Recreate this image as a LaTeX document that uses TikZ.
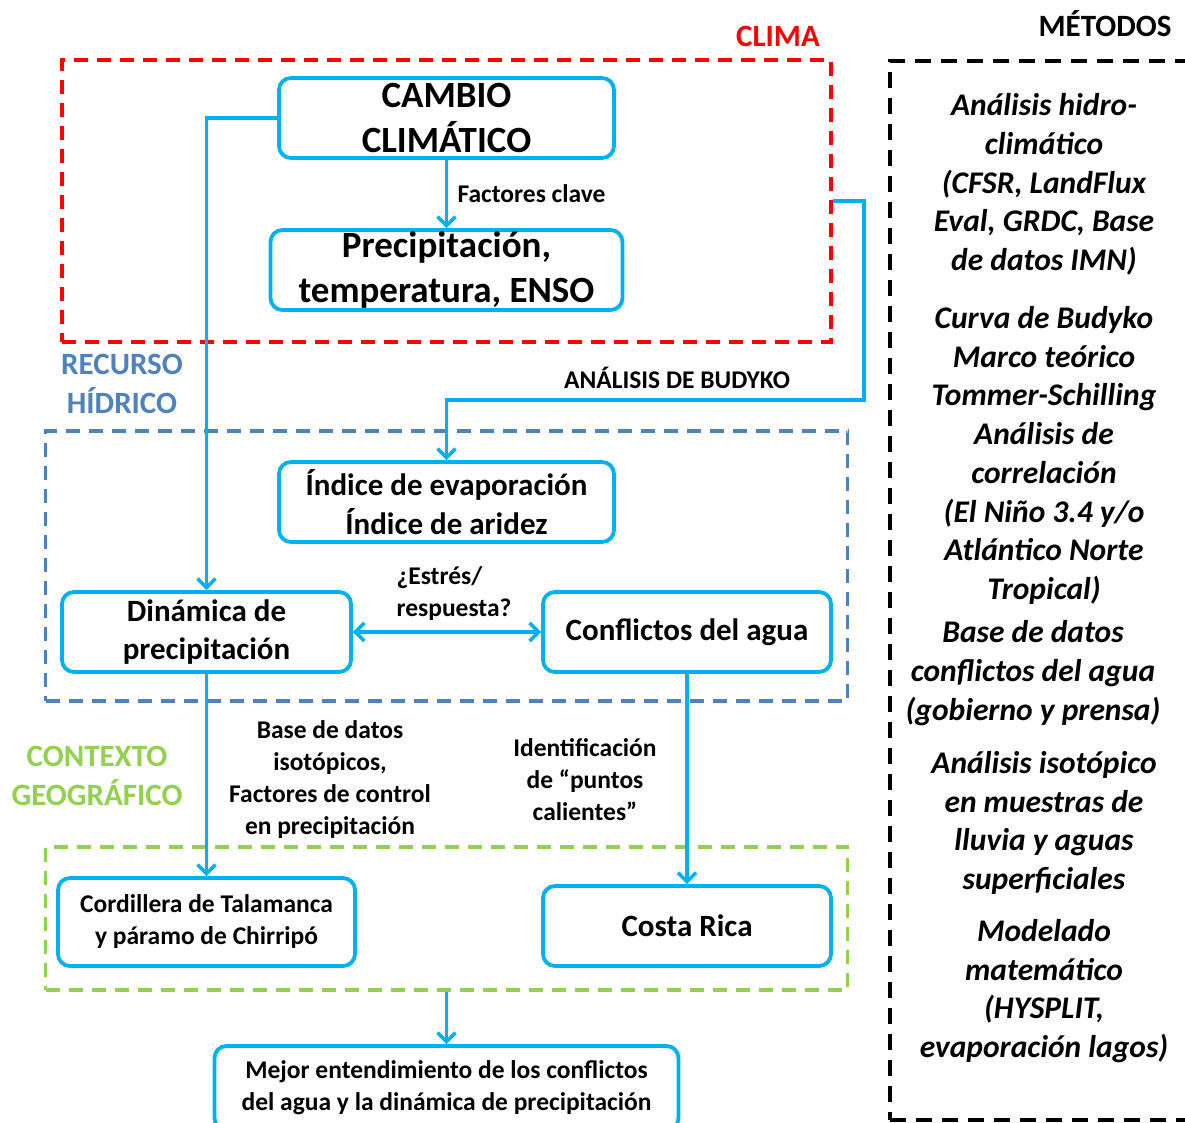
\documentclass[tikz,border=0pt]{standalone}
\usepackage{fontspec}
\setmainfont{Carlito}
\usepackage{tikz}
\usetikzlibrary{positioning}
\usetikzlibrary{arrows.meta}
\definecolor{flujo}{HTML}{00B0F0}
\definecolor{rojoclima}{HTML}{FF0000}
\definecolor{azulhidro}{HTML}{4F81BD}
\definecolor{verdegeo}{HTML}{92D050}
\tikzset{
    caja/.style = {rectangle, rounded corners=12pt, line width=3.8pt, draw=flujo, align=center, inner sep=0pt, font=\bfseries\fontsize{31}{38.5}\selectfont},
    cajag/.style = {caja, font=\bfseries\fontsize{37}{45}\selectfont},
    cajap/.style = {caja, font=\bfseries\fontsize{25.5}{32}\selectfont},
    zona/.style = {rectangle, line width=3.5pt, dash pattern=on 14pt off 9pt, inner sep=0pt},
    etiq/.style = {align=center, font=\bfseries\fontsize{25.5}{32}\selectfont},
    titulo/.style = {align=center, font=\bfseries\fontsize{31}{39}\selectfont},
    metodo/.style = {align=center, font=\bfseries\itshape\fontsize{31.5}{38.75}\selectfont},
    edgen/.style = {-{Straight Barb[length=9pt,width=18pt]},line width=3.5pt,draw=flujo}, % simple
    edged/.style = {{Straight Barb[length=9pt,width=18pt]}-{Straight Barb[length=9pt,width=18pt]},line width=3.5pt,draw=flujo} % doble
}

\begin{document}
\begin{tikzpicture}[x=1pt,y=-1pt]
\useasboundingbox (0,0) rectangle (1185,1122);
% zonas
\node[zona, draw=rojoclima, minimum width=769pt, minimum height=282pt] at (446.5,201) (clima) {};
\node[zona, draw=azulhidro, minimum width=802pt, minimum height=270pt] at (446.5,566) (recurso) {};
\node[zona, draw=verdegeo, minimum width=802pt, minimum height=143pt] at (446.5,918.5) (contexto) {};
\node[zona, draw=black, dash pattern=on 16pt off 10pt, minimum width=310pt, minimum height=1059pt] at (1045,590.5) (metodos) {};
\node[titulo, text=rojoclima] at (778,36) (climat) {CLIMA};
\node[titulo] at (1105,24) (metodost) {MÉTODOS};
\node[titulo, text=azulhidro] at (122,383.5) (recursot) {RECURSO\\HÍDRICO};
\node[titulo, text=verdegeo] at (97,776) (contextot) {CONTEXTO\\GEOGRÁFICO};
% cajas
\node[cajag, minimum width=335pt, minimum height=80pt] at (446.5,118) (cambio) {CAMBIO\\CLIMÁTICO};
\node[cajag, minimum width=352pt, minimum height=80pt] at (446.5,270) (precip) {Precipitación,\\temperatura, ENSO};
\node[caja, minimum width=335pt, minimum height=80pt] at (446.5,502) (indice) {Índice de evaporación\\Índice de aridez};
\node[caja, minimum width=289pt, minimum height=80pt] at (206.5,632) (dinamica) {Dinámica de\\precipitación};
\node[caja, minimum width=288pt, minimum height=80pt] at (687,632) (conflictos) {Conflictos del agua};
\node[cajap, minimum width=297pt, minimum height=88pt] at (206.5,922) (cordillera) {Cordillera de Talamanca\\y páramo de Chirripó};
\node[caja, minimum width=288pt, minimum height=80pt] at (687,926) (costa) {Costa Rica};
\node[cajap, minimum width=464pt, minimum height=84pt] at (446.5,1088) (mejor) {Mejor entendimiento de los conflictos\\del agua y la dinámica de precipitación};
% etiquetas
\node[etiq] at (677,378) (budyko) {ANÁLISIS DE BUDYKO};
\node[etiq, align=left, anchor=west] at (393,594) (estres) {¿Estrés/\\respuesta?};
\node[etiq] at (330,780) (isotopos) {Base de datos\\isotópicos,\\Factores de control\\en precipitación};
\node[etiq] at (585,780) (puntos) {Identificación\\de “puntos\\calientes”};
% metodos
\node[metodo] at (1044,184.5) (m1) {Análisis hidro-\\climático\\(CFSR, LandFlux\\Eval, GRDC, Base\\de datos IMN)};
\node[metodo] at (1044,455.5) (m2) {Curva de Budyko\\Marco teórico\\Tommer-Schilling\\Análisis de\\correlación\\(El Niño 3.4 y/o\\Atlántico Norte\\Tropical)};
\node[metodo] at (1033,673) (m3) {Base de datos\\conflictos del agua\\(gobierno y prensa)};
\node[metodo] at (1044,823) (m4) {Análisis isotópico\\en muestras de\\lluvia y aguas\\superficiales};
\node[metodo] at (1044,991) (m5) {Modelado\\matemático\\(HYSPLIT,\\evaporación lagos)};
%
\draw[edgen] (cambio) edge node[right=6pt, etiq] {Factores clave} (precip);
\draw[edgen] (cambio.west) -| (dinamica.north);
\draw[edgen] (clima.east) -- ++(31,0) |- ([yshift=60pt]indice.north) -- (indice.north);
\draw[edged] (dinamica) -- (conflictos);
\draw[edgen] (dinamica) -- (cordillera);
\draw[edgen] (conflictos) -- (costa);
\draw[edgen] (contexto.south) -- (mejor.north);
\end{tikzpicture}
\end{document}
